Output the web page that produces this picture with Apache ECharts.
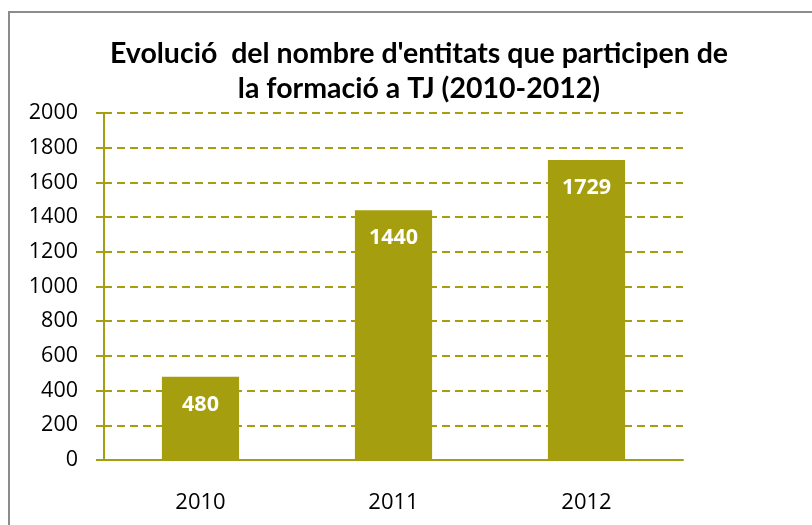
<!DOCTYPE html>
<html>
<head>
<meta charset="utf-8">
<script src="https://cdn.jsdelivr.net/npm/echarts@6/dist/echarts.min.js"></script>
<style>
  html, body { margin: 0; padding: 0; background: #fff; }
  #main { width: 812px; height: 525px; }
</style>
</head>
<body>
<div id="main"></div>
<script>
var years = ['2010', '2011', '2012'];
var entitats = [480, 1440, 1729];
var yTicks = { min: 0, max: 2000, interval: 200 };

var olive = '#A59F0F';

var myChart = echarts.init(document.getElementById('main'));
myChart.setOption({
    animation: false,
    backgroundColor: '#fff',
    title: {
        text: "Evolució  del nombre d'entitats que participen de\nla formació a TJ (2010-2012)",
        left: 414,
        top: 31,
        textAlign: 'center',
        textStyle: {
            fontFamily: 'Lato',
            fontWeight: 'bold',
            fontSize: 28.5,
            lineHeight: 35,
            color: '#000'
        }
    },
    graphic: [{
        type: 'rect',
        shape: { x: 9, y: 12, width: 830, height: 540 },
        style: { fill: null, stroke: '#8c8c8c', lineWidth: 2 },
        silent: true
    }],
    grid: { left: 104, right: 129, top: 113, bottom: 65 },
    xAxis: {
        type: 'category',
        data: years,
        axisLine: { lineStyle: { color: olive, width: 2 } },
        axisTick: { length: 8, lineStyle: { color: olive, width: 2 } },
        axisLabel: {
            margin: 32,
            color: '#000',
            fontFamily: 'Open Sans',
            fontSize: 22
        }
    },
    yAxis: {
        type: 'value',
        min: yTicks.min,
        max: yTicks.max,
        interval: yTicks.interval,
        axisLine: { show: true, lineStyle: { color: olive, width: 2 } },
        axisTick: { show: true, length: 8, lineStyle: { color: olive, width: 2 } },
        axisLabel: {
            margin: 26,
            color: '#000',
            fontFamily: 'Open Sans',
            fontSize: 21.5,
            formatter: function (v) { return String(v); }
        },
        splitLine: {
            lineStyle: { color: olive, width: 2, type: [8, 5] }
        }
    },
    series: [{
        type: 'bar',
        data: entitats,
        barWidth: '40%',
        itemStyle: { color: olive },
        label: {
            show: true,
            position: 'insideTop',
            distance: 17,
            color: '#fff',
            fontFamily: 'Open Sans',
            fontWeight: 'bold',
            fontSize: 21.5
        }
    }]
});
</script>
</body>
</html>
